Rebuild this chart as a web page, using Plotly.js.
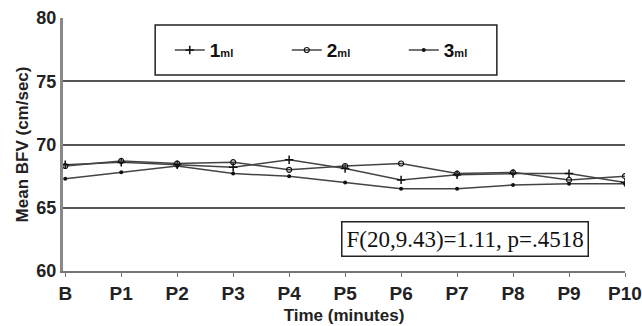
<!DOCTYPE html>
<html><head><meta charset="utf-8">
<script src="https://cdn.plot.ly/plotly-3.0.1.min.js"></script>
<style>html,body{margin:0;padding:0;background:#fff}#c{width:642px;height:326px}</style>
</head><body><div id="c"></div>
<script>
const categories = ["B","P1","P2","P3","P4","P5","P6","P7","P8","P9","P10"];
const ml1 = [68.4, 68.6, 68.4, 68.2, 68.8, 68.1, 67.2, 67.6, 67.7, 67.7, 67.0];
const ml2 = [68.3, 68.7, 68.5, 68.6, 68.0, 68.3, 68.5, 67.7, 67.8, 67.2, 67.5];
const ml3 = [67.3, 67.8, 68.3, 67.7, 67.5, 67.0, 66.5, 66.5, 66.8, 66.9, 66.9];
const seriesNames = ["1<span style='font-size:11px'>ml</span>", "2<span style='font-size:11px'>ml</span>", "3<span style='font-size:11px'>ml</span>"];
const statText = "F(20,9.43)=1.11, p=.4518";

const lineCol = "#444";
const traces = [
  {x: categories, y: ml1, name: seriesNames[0], mode: "lines+markers",
   line: {color: lineCol, width: 1.5}, marker: {symbol: "cross-thin-open", size: 6, color: "#111", line: {width: 1.5, color: "#111"}}},
  {x: categories, y: ml2, name: seriesNames[1], mode: "lines+markers",
   line: {color: lineCol, width: 1.5}, marker: {symbol: "circle-open", size: 5, color: "#111", line: {width: 1.2}}},
  {x: categories, y: ml3, name: seriesNames[2], mode: "lines+markers",
   line: {color: lineCol, width: 1.5}, marker: {symbol: "circle", size: 4, color: "#111"}}
];

const layout = {
  width: 642, height: 326,
  margin: {l: 63, r: 17, t: 18, b: 55},
  paper_bgcolor: "#fff", plot_bgcolor: "#fff",
  font: {family: "Liberation Sans, Arial, sans-serif", color: "#222"},
  showlegend: true,
  legend: {orientation: "h", x: 0.19, y: 0.873, xanchor: "left", yanchor: "middle",
    font: {size: 19, color: "#111", family: "Liberation Sans, Arial, sans-serif", weight: "bold"},
    bgcolor: "rgba(0,0,0,0)", borderwidth: 0, entrywidth: 72, entrywidthmode: "pixels", itemwidth: 30},
  xaxis: {type: "category", range: [-0.04, 10], showgrid: false, zeroline: false,
    showline: true, linecolor: "#777", linewidth: 2,
    ticks: "outside", ticklen: 4, tickcolor: "#777",
    tickfont: {size: 19, color: "#222", weight: "bold"},
    title: {text: "Time (minutes)", font: {size: 17, color: "#222", weight: "bold"}, standoff: 6}},
  yaxis: {range: [60, 80], tickvals: [60, 65, 70, 75, 80], showgrid: true, gridcolor: "#555", gridwidth: 2,
    zeroline: false, showline: true, linecolor: "#888", linewidth: 3, ticks: "",
    tickfont: {size: 18, color: "#222", weight: "bold"},
    title: {text: "Mean BFV (cm/sec)", font: {size: 17, color: "#222", weight: "bold"}, standoff: 4}},
  shapes: [
    {type: "rect", xref: "paper", yref: "paper", x0: 0.164, x1: 0.772, y0: 0.775, y1: 0.972,
     line: {color: "#222", width: 1.5}, fillcolor: "rgba(0,0,0,0)"}
  ],
  annotations: [
    {text: statText, xref: "paper", yref: "paper", x: 0.715, y: 0.126, xanchor: "center", yanchor: "middle",
     showarrow: false, font: {family: "Liberation Serif, Times New Roman, serif", size: 23, color: "#111"},
     bordercolor: "#222", borderwidth: 1.5, borderpad: 4, bgcolor: "#fff"}
  ]
};
Plotly.newPlot("c", traces, layout, {displayModeBar: false, staticPlot: true});
</script></body></html>
